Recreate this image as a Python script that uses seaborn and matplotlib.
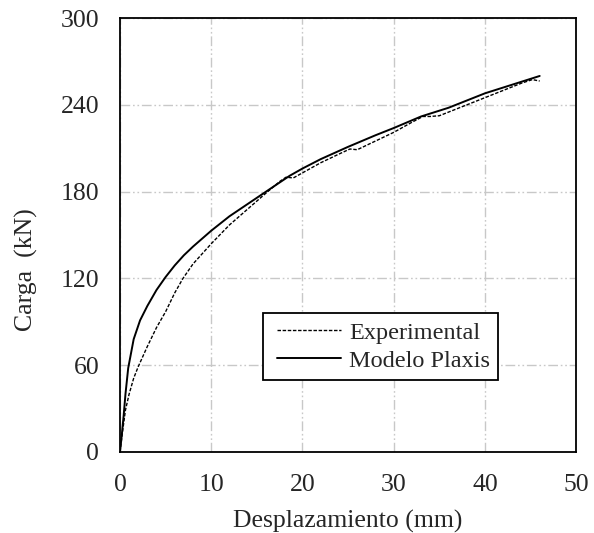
import numpy as np
import pandas as pd
import matplotlib
matplotlib.use("Agg")
import matplotlib.pyplot as plt
from matplotlib.patches import Rectangle
from matplotlib.ticker import MultipleLocator
import seaborn as sns

# Curva carga-desplazamiento
exp_x = [0, 0.3, 0.6, 1.0, 1.5, 2.0, 3.0, 4.0, 5.0, 6.0, 6.9, 8.0, 10.0, 12.0, 14.0, 16.0,
         17.5, 18.2, 19.0, 20.0, 22.0, 24.0, 25.2, 26.0, 28.0, 30.0, 32.0, 33.2, 34.0,
         35.0, 36.0, 38.0, 40.0, 42.0, 44.0, 45.2, 46.0]
exp_y = [0, 15, 29, 40, 51, 59, 73, 86, 97, 110, 120, 130, 144, 157, 168, 179,
         187, 190, 189.5, 193, 200, 206, 209.5, 209, 215, 221, 228, 232, 232,
         232.5, 235, 240, 245, 250, 255, 257.5, 256.5]

plx_x = [0, 0.2, 0.4, 0.6, 0.9, 1.5, 2.2, 3.0, 4.0, 5.0, 6.0, 7.0, 8.0, 10.0, 12.0,
         14.0, 16.0, 18.6, 20.0, 22.0, 25.0, 28.0, 30.0, 33.0, 36.0, 40.0, 43.0, 46.0]
plx_y = [0, 12, 25, 40, 58, 78, 91, 101, 112, 121, 129, 136, 142, 153, 163,
         171.5, 180, 191, 196, 202.5, 211, 219, 224, 232, 238, 248, 254, 260]

sns.set_style("white")
plt.rcParams['font.family'] = ['Liberation Serif', 'DejaVu Serif']

fig, ax = plt.subplots(figsize=(5.94, 5.33), dpi=100)
fig.subplots_adjust(left=0.202, right=0.97, top=0.966, bottom=0.152)

df_exp = pd.DataFrame({"x": exp_x, "y": exp_y})
df_plx = pd.DataFrame({"x": plx_x, "y": plx_y})

sns.lineplot(data=df_exp, x="x", y="y", ax=ax, color="black", lw=1.0,
             sort=False, label="Experimental")
ax.lines[-1].set_dashes((2.5, 1.2))
sns.lineplot(data=df_plx, x="x", y="y", ax=ax, color="black", lw=1.4,
             sort=False, label="Modelo Plaxis")

ax.set_xlim(0, 50)
ax.set_ylim(0, 300)
ax.xaxis.set_major_locator(MultipleLocator(10))
ax.xaxis.set_minor_locator(MultipleLocator(5))
ax.yaxis.set_major_locator(MultipleLocator(60))
ax.yaxis.set_minor_locator(MultipleLocator(30))
ax.tick_params(which="both", direction="in", length=5, width=1.2,
               top=False, right=False, labelsize=18.5)
ax.tick_params(axis="x", pad=16)
ax.tick_params(axis="y", pad=15)

ax.grid(True, which="major", color="#c8c8c8", lw=1.0, dashes=(7, 2, 1.2, 2, 1.2, 2))
ax.set_axisbelow(True)
for s in ax.spines.values():
    s.set_color("black")
    s.set_linewidth(1.3)

ax.set_xlabel("Desplazamiento (mm)", fontsize=18.5, labelpad=10)
ax.set_ylabel("Carga  (kN)", fontsize=18.5)
ax.yaxis.set_label_coords(-0.18, 0.42)

# legend box drawn by hand (wide left margin like the original)
ax.add_patch(Rectangle((0.3136, 0.167), 0.515, 0.1525, transform=ax.transAxes,
                       facecolor="white", edgecolor="black", lw=1.3, zorder=5))
leg = ax.legend(loc="center left", bbox_to_anchor=(0.345, 0.243), fontsize=17.5,
                frameon=False, borderpad=0, handlelength=2.6, handletextpad=0.35,
                labelspacing=0.25, borderaxespad=0)
leg.set_zorder(6)

fig.savefig("out.png", dpi=100)
